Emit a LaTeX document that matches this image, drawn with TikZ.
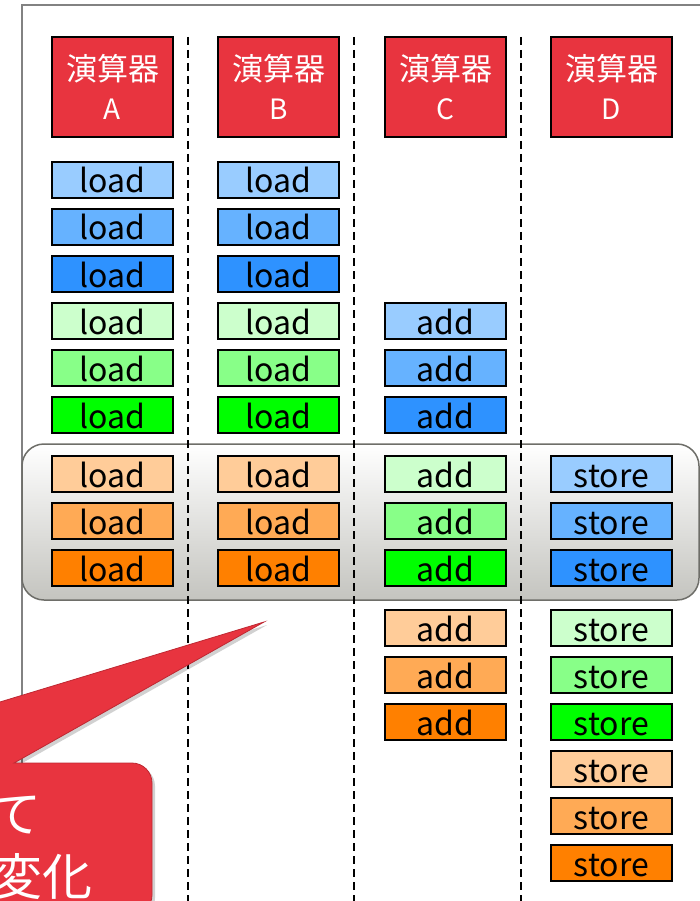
\documentclass[tikz,border=0pt]{standalone}
\usepackage{fontspec}
\setmainfont{Noto Sans CJK JP}
\definecolor{unitred}{RGB}{232,52,63}
\definecolor{calloutedge}{RGB}{190,40,50}
\definecolor{frame}{RGB}{130,130,130}
\definecolor{bandedge}{RGB}{110,110,105}
\definecolor{bandlow}{RGB}{196,196,191}
\definecolor{blueL}{RGB}{153,204,255}
\definecolor{blueM}{RGB}{102,178,255}
\definecolor{blueD}{RGB}{46,146,255}
\definecolor{greenL}{RGB}{204,255,204}
\definecolor{greenM}{RGB}{136,255,136}
\definecolor{greenD}{RGB}{0,255,0}
\definecolor{orangeL}{RGB}{255,204,153}
\definecolor{orangeM}{RGB}{255,170,85}
\definecolor{orangeD}{RGB}{255,128,0}
\tikzset{
  head/.style={draw=black, line width=1.5pt, fill=unitred, text=white,
    minimum width=121pt, minimum height=100pt, inner sep=0pt, align=center,
    font=\fontsize{31}{39}\selectfont},
  opbox/.style={draw=black, line width=1.5pt, minimum width=121pt,
    minimum height=36pt, inner sep=0pt, text height=28pt, text depth=2pt,
    font=\fontsize{32}{32}\selectfont},
  lane/.style={black, line width=1.5pt, dash pattern=on 8pt off 5pt},
  callouttext/.style={text=white, inner sep=0pt, font=\fontsize{50}{50}\selectfont}
}
\newcommand{\unitletter}[1]{{\fontsize{28}{39}\selectfont #1}}
\begin{document}
\begin{tikzpicture}[x=1pt,y=-1pt]
\clip (0,0) rectangle (700,901);

% outer frame
\draw[frame, line width=2pt] (22,905) -- (22,5) -- (705,5);

% highlighted band across the steady-state rows
\path[draw=bandedge, line width=1.5pt, top color=white, bottom color=bandlow,
      rounded corners=22pt] (22,444) rectangle (699,600);

% lane separators
\foreach \x in {188,354,521}
  \draw[lane] (\x,37) -- (\x,905);

% unit headers
\node[head] (hA) at (112.5,87) {演算器\\\unitletter{A}};
\node[head] (hB) at (278.5,87) {演算器\\\unitletter{B}};
\node[head] (hC) at (445.5,87) {演算器\\\unitletter{C}};
\node[head] (hD) at (611.5,87) {演算器\\\unitletter{D}};

% loads on units A and B
\foreach \r/\y/\c in {1/180/blueL,2/227/blueM,3/274/blueD,
                      4/321/greenL,5/368/greenM,6/415/greenD,
                      7/474/orangeL,8/521/orangeM,9/568/orangeD}{
  \node[opbox, fill=\c] (a\r) at (112.5,\y) {load};
  \node[opbox, fill=\c] (b\r) at (278.5,\y) {load};
}

% adds on unit C
\foreach \r/\y/\c in {4/321/blueL,5/368/blueM,6/415/blueD,
                      7/474/greenL,8/521/greenM,9/568/greenD,
                      10/628/orangeL,11/675/orangeM,12/722/orangeD}
  \node[opbox, fill=\c] (c\r) at (445.5,\y) {add};

% stores on unit D
\foreach \r/\y/\c in {7/474/blueL,8/521/blueM,9/568/blueD,
                      10/628/greenL,11/675/greenM,12/722/greenD,
                      13/769/orangeL,14/816/orangeM,15/863/orangeD}
  \node[opbox, fill=\c] (d\r) at (611.5,\y) {store};

% callout with its pointer
\begin{scope}[shift={(3,3)}]
  \fill[black, opacity=0.18] (-10,705) -- (264,622) -- (14,763)
    {[rounded corners=20pt] -- (152,763) -- (152,915)} -- (-10,915) -- cycle;
\end{scope}
\draw[calloutedge, line width=0.8pt, fill=unitred] (-10,705) -- (264,622) -- (14,763)
  {[rounded corners=20pt] -- (152,763) -- (152,915)} -- (-10,915) -- cycle;
\node[callouttext, anchor=east] (t1) at (42,815) {て};
\node[callouttext, anchor=east] (t2) at (93,877) {変化};
\end{tikzpicture}
\end{document}
